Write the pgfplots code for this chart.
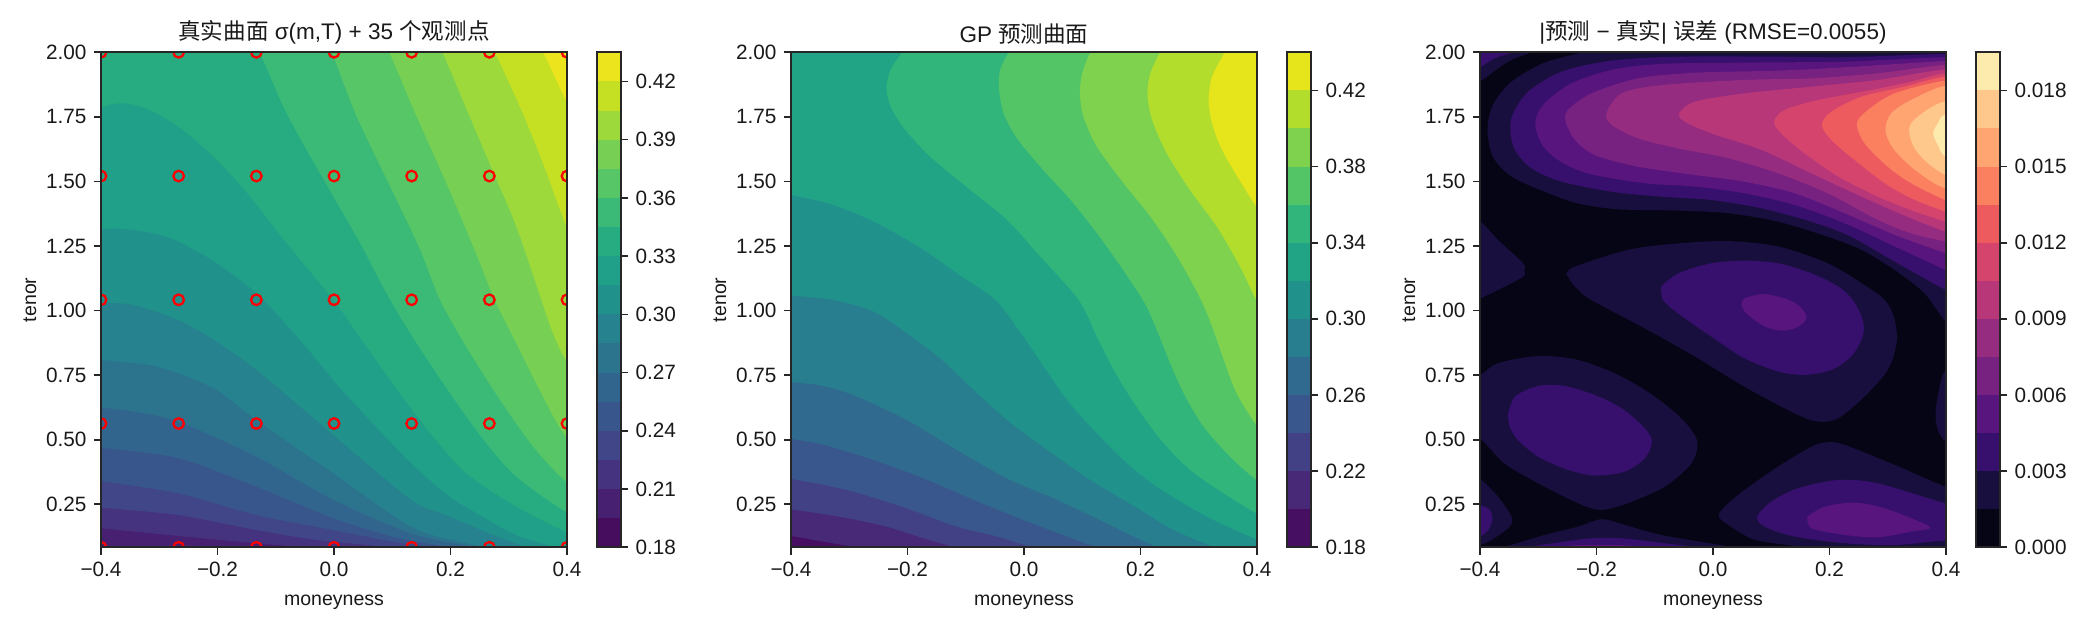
\documentclass[border=0pt]{standalone}
\usepackage{pgfplots}
\pgfplotsset{compat=1.18}
\usepackage{fontspec}
\setmainfont{Liberation Sans}
\newfontfamily\cjk{Noto Sans CJK SC}
% viridis, 17 layers
\definecolor{a0}{HTML}{460C5E}\definecolor{a1}{HTML}{482071}\definecolor{a2}{HTML}{46337F}
\definecolor{a3}{HTML}{404688}\definecolor{a4}{HTML}{39568C}\definecolor{a5}{HTML}{32658D}
\definecolor{a6}{HTML}{2C748E}\definecolor{a7}{HTML}{26828E}\definecolor{a8}{HTML}{21918C}
\definecolor{a9}{HTML}{20A088}\definecolor{a10}{HTML}{27AC81}\definecolor{a11}{HTML}{3ABA76}
\definecolor{a12}{HTML}{56C666}\definecolor{a13}{HTML}{77D053}\definecolor{a14}{HTML}{9DD93B}
\definecolor{a15}{HTML}{C5E023}\definecolor{a16}{HTML}{ECE51D}
% viridis, 13 layers
\definecolor{b0}{HTML}{460F61}\definecolor{b1}{HTML}{472978}\definecolor{b2}{HTML}{424186}
\definecolor{b3}{HTML}{39578C}\definecolor{b4}{HTML}{306A8E}\definecolor{b5}{HTML}{287E8E}
\definecolor{b6}{HTML}{21918C}\definecolor{b7}{HTML}{21A386}\definecolor{b8}{HTML}{31B57B}
\definecolor{b9}{HTML}{54C567}\definecolor{b10}{HTML}{7FD24E}\definecolor{b11}{HTML}{B3DD2D}
\definecolor{b12}{HTML}{E6E41B}
% magma, 13 layers
\definecolor{c0}{HTML}{050516}\definecolor{c1}{HTML}{190F3F}\definecolor{c2}{HTML}{370F6C}
\definecolor{c3}{HTML}{58157E}\definecolor{c4}{HTML}{772181}\definecolor{c5}{HTML}{962C80}
\definecolor{c6}{HTML}{B73779}\definecolor{c7}{HTML}{D5446D}\definecolor{c8}{HTML}{ED5B5F}
\definecolor{c9}{HTML}{FA805F}\definecolor{c10}{HTML}{FEA571}\definecolor{c11}{HTML}{FEC88C}
\definecolor{c12}{HTML}{FDEBAE}
\newcommand\cf[2]{\addplot[fill=#1,draw=none,smooth] coordinates {#2};}
\newcommand\cb[2]{\addplot[fill=#1,draw=none] coordinates {(0,#2)(1,#2)(1,1)(0,1)};}
\pgfplotsset{
  common/.style={scale only axis,axis on top,axis line style={line width=.8pt,black!85},
    tick style={line width=.8pt,black!85},major tick length=3.5pt,tick align=outside,
    scaled y ticks=false,scaled x ticks=false,
    tick label style={font=\fontsize{10}{12}\selectfont,text=black!90}},
  mainax/.style={common,width=223.68bp,height=237.6bp,anchor=south west,
    xmin=-0.4,xmax=0.4,ymin=0.0833,ymax=2,clip marker paths=true,
    xtick={-0.4,-0.2,0,0.2,0.4},xticklabels={−0.4,−0.2,0.0,0.2,0.4},
    ytick={0.25,0.5,0.75,1,1.25,1.5,1.75,2},yticklabels={0.25,0.50,0.75,1.00,1.25,1.50,1.75,2.00},
    xtick pos=bottom,ytick pos=left,
    xlabel={moneyness},ylabel={tenor},
    label style={font=\fontsize{9.4}{11}\selectfont,text=black!90},
    xlabel style={yshift=-1.9pt},ylabel style={yshift=-2.2pt},
    title style={font=\fontsize{10.85}{13}\selectfont,text=black!90,yshift=-5.8pt}},
  cbax/.style={common,width=11.52bp,height=237.6bp,anchor=south west,
    xmin=0,xmax=1,xtick=\empty,ytick pos=right,yticklabel pos=right}
}
\begin{document}
\begin{tikzpicture}
\path[use as bounding box] (0,0) rectangle (1008bp,302.4bp);
% ---------- panel 1 ----------
\begin{axis}[mainax,at={(48.48bp,39.7bp)},title={{\cjk 真实曲面} σ(m,T) + 35 {\cjk 个观测点}}]
\addplot[fill=a0,draw=none] coordinates {(-.6,0)(.6,0)(.6,2.2)(-.6,2.2)};
\cf{a1}{(-.45,.092)(-.4,.088)(-.31,.0825)(-.25,.07)(.7,-.1)(.8,2.4)(-.7,2.4)}
\cf{a2}{(-.45,.165)(-.4,.157)(-.267,.127)(-.133,.099)(-.053,.083)(0,.06)(.7,-.1)(.8,2.4)(-.7,2.4)}
\cf{a3}{(-.45,.247)(-.4,.237)(-.267,.208)(-.133,.150)(-.030,.112)(.096,.083)(.15,.06)(.7,-.1)(.8,2.4)(-.7,2.4)}
\cf{a4}{(-.45,.355)(-.4,.340)(-.267,.292)(-.133,.208)(-.001,.150)(.085,.112)(.165,.083)(.22,.06)(.7,-.1)(.8,2.4)(-.7,2.4)}
\cf{a5}{(-.45,.482)(-.4,.469)(-.267,.428)(-.133,.318)(-.001,.196)(.113,.118)(.205,.083)(.26,.06)(.7,-.1)(.8,2.4)(-.7,2.4)}
\cf{a6}{(-.45,.632)(-.4,.624)(-.345,.609)(-.267,.570)(-.133,.434)(-.001,.267)(.133,.137)(.245,.083)(.3,.06)(.7,-.1)(.8,2.4)(-.7,2.4)}
\cf{a7}{(-.45,.815)(-.4,.809)(-.316,.789)(-.267,.757)(-.201,.692)(-.133,.576)(-.001,.370)(.133,.163)(.228,.099)(.279,.083)(.33,.07)(.7,-.1)(.8,2.4)(-.7,2.4)}
\cf{a8}{(-.45,1.035)(-.4,1.031)(-.345,1.022)(-.267,.963)(-.201,.880)(-.133,.770)(-.058,.628)(-.001,.518)(.133,.267)(.193,.208)(.267,.137)(.331,.083)(.38,.05)(.7,-.1)(.8,2.4)(-.7,2.4)}
\cf{a9}{(-.45,1.312)(-.4,1.316)(-.356,1.315)(-.287,1.286)(-.219,1.209)(-.161,1.118)(-.121,1.041)(-.058,.886)(-.001,.731)(.056,.589)(.133,.409)(.199,.279)(.251,.208)(.313,.131)(.382,.083)(.43,.05)(.7,-.1)(.8,2.4)(-.7,2.4)}
\cf{a10}{(-.45,1.74)(-.4,1.787)(-.362,1.803)(-.316,1.777)(-.259,1.699)(-.201,1.583)(-.144,1.441)(-.081,1.260)(-.001,1.041)(.056,.860)(.113,.680)(.170,.512)(.227,.370)(.313,.241)(.398,.144)(.45,.10)(.7,.1)(.7,2.4)(-.7,2.4)}
\cf{a11}{(-.15,2.05)(-.128,2.0)(-.087,1.790)(-.047,1.622)(-.001,1.441)(.045,1.260)(.095,1.047)(.142,.873)(.199,.680)(.257,.499)(.313,.357)(.398,.221)(.45,.18)(.7,.18)(.7,2.4)(-.15,2.4)}
\cf{a12}{(-.02,2.05)(-.004,2.0)(.039,1.751)(.102,1.454)(.148,1.235)(.182,1.041)(.227,.860)(.285,.654)(.342,.473)(.398,.338)(.45,.27)(.7,.27)(.7,2.4)(-.02,2.4)}
\cf{a13}{(.08,2.05)(.095,2.0)(.142,1.751)(.193,1.493)(.239,1.248)(.276,1.041)(.313,.873)(.353,.692)(.398,.512)(.45,.42)(.7,.42)(.7,2.4)(.08,2.4)}
\cf{a14}{(.17,2.05)(.186,2.0)(.227,1.783)(.267,1.570)(.313,1.325)(.356,1.041)(.376,.912)(.398,.809)(.45,.65)(.7,.65)(.7,2.4)(.17,2.4)}
\cf{a15}{(.26,2.05)(.276,2.0)(.319,1.790)(.359,1.570)(.398,1.331)(.45,1.05)(.7,1.05)(.7,2.4)(.26,2.4)}
\cf{a16}{(.34,2.05)(.359,2.0)(.398,1.815)(.45,1.6)(.7,1.6)(.7,2.4)(.34,2.4)}
\addplot[only marks,mark=o,mark size=2.55pt,red,mark options={line width=1.1pt}] coordinates {
(-.4,.0833)(-.2667,.0833)(-.1333,.0833)(0,.0833)(.1333,.0833)(.2667,.0833)(.4,.0833)
(-.4,.5625)(-.2667,.5625)(-.1333,.5625)(0,.5625)(.1333,.5625)(.2667,.5625)(.4,.5625)
(-.4,1.0417)(-.2667,1.0417)(-.1333,1.0417)(0,1.0417)(.1333,1.0417)(.2667,1.0417)(.4,1.0417)
(-.4,1.5208)(-.2667,1.5208)(-.1333,1.5208)(0,1.5208)(.1333,1.5208)(.2667,1.5208)(.4,1.5208)
(-.4,2)(-.2667,2)(-.1333,2)(0,2)(.1333,2)(.2667,2)(.4,2)};
\end{axis}
\begin{axis}[cbax,at={(286.56bp,39.7bp)},ymin=0.18,ymax=0.435,
  ytick={0.18,0.21,0.24,0.27,0.30,0.33,0.36,0.39,0.42},yticklabels={0.18,0.21,0.24,0.27,0.30,0.33,0.36,0.39,0.42}]
\cb{a0}{0.18}\cb{a1}{0.195}\cb{a2}{0.21}\cb{a3}{0.225}\cb{a4}{0.24}\cb{a5}{0.255}\cb{a6}{0.27}\cb{a7}{0.285}\cb{a8}{0.30}
\cb{a9}{0.315}\cb{a10}{0.33}\cb{a11}{0.345}\cb{a12}{0.36}\cb{a13}{0.375}\cb{a14}{0.39}\cb{a15}{0.405}\cb{a16}{0.42}
\end{axis}
% ---------- panel 2 ----------
\begin{axis}[mainax,at={(379.68bp,39.7bp)},title={GP {\cjk 预测曲面}}]
\addplot[fill=b0,draw=none] coordinates {(-.6,0)(.6,0)(.6,2.2)(-.6,2.2)};
\cf{b1}{(-.45,.14)(-.4,.127)(-.344,.105)(-.289,.083)(-.24,.06)(.7,-.1)(.8,2.4)(-.7,2.4)}
\cf{b2}{(-.45,.245)(-.4,.230)(-.344,.212)(-.287,.189)(-.229,.159)(-.172,.118)(-.118,.083)(-.07,.05)(.7,-.1)(.8,2.4)(-.7,2.4)}
\cf{b3}{(-.45,.365)(-.4,.348)(-.344,.325)(-.287,.295)(-.201,.234)(-.115,.163)(-.046,.125)(.014,.083)(.07,.05)(.7,-.1)(.8,2.4)(-.7,2.4)}
\cf{b4}{(-.45,.52)(-.4,.503)(-.344,.480)(-.258,.421)(-.172,.350)(-.086,.267)(-.001,.189)(.125,.083)(.18,.05)(.7,-.1)(.8,2.4)(-.7,2.4)}
\cf{b5}{(-.45,.733)(-.4,.723)(-.344,.708)(-.287,.667)(-.201,.576)(-.115,.460)(-.029,.350)(.057,.267)(.142,.176)(.228,.083)(.28,.04)(.7,-.1)(.8,2.4)(-.7,2.4)}
\cf{b6}{(-.45,1.064)(-.4,1.058)(-.327,1.041)(-.258,.996)(-.201,.912)(-.144,.815)(-.086,.692)(-.029,.576)(.028,.480)(.114,.344)(.200,.228)(.257,.150)(.328,.083)(.38,.04)(.7,-.1)(.8,2.4)(-.7,2.4)}
\cf{b7}{(-.45,1.47)(-.4,1.448)(-.327,1.409)(-.252,1.338)(-.172,1.235)(-.115,1.144)(-.049,1.041)(-.001,.899)(.034,.783)(.074,.654)(.114,.551)(.171,.421)(.228,.318)(.314,.202)(.399,.114)(.45,.07)(.7,.07)(.7,2.4)(-.7,2.4)}
\cf{b8}{(-.19,2.05)(-.209,2.0)(-.229,1.932)(-.236,1.861)(-.229,1.790)(-.206,1.706)(-.161,1.596)(-.092,1.467)(-.029,1.351)(.028,1.209)(.094,1.041)(.125,.899)(.148,.796)(.171,.705)(.205,.589)(.240,.486)(.285,.383)(.343,.292)(.399,.215)(.45,.17)(.7,.17)(.7,2.4)(-.19,2.4)}
\cf{b9}{(-.01,2.05)(-.026,2.0)(-.041,1.932)(-.043,1.861)(-.035,1.764)(-.012,1.667)(.028,1.557)(.085,1.415)(.142,1.248)(.204,1.041)(.228,.925)(.251,.796)(.274,.680)(.308,.551)(.354,.434)(.399,.344)(.45,.27)(.7,.27)(.7,2.4)(-.01,2.4)}
\cf{b10}{(.13,2.05)(.114,2.0)(.100,1.919)(.096,1.841)(.102,1.751)(.125,1.635)(.171,1.493)(.217,1.364)(.263,1.209)(.304,1.041)(.325,.925)(.343,.809)(.365,.680)(.399,.557)(.45,.42)(.7,.42)(.7,2.4)(.13,2.4)}
\cf{b11}{(.25,2.05)(.234,2.0)(.217,1.919)(.212,1.835)(.220,1.738)(.245,1.609)(.285,1.467)(.331,1.325)(.371,1.170)(.399,1.041)(.45,.85)(.7,.85)(.7,2.4)(.25,2.4)}
\cf{b12}{(.36,2.05)(.345,2.0)(.323,1.906)(.317,1.815)(.323,1.725)(.343,1.609)(.399,1.402)(.45,1.25)(.7,1.25)(.7,2.4)(.36,2.4)}
\end{axis}
\begin{axis}[cbax,at={(617.76bp,39.7bp)},ymin=0.18,ymax=0.44,
  ytick={0.18,0.22,0.26,0.30,0.34,0.38,0.42},yticklabels={0.18,0.22,0.26,0.30,0.34,0.38,0.42}]
\cb{b0}{0.18}\cb{b1}{0.20}\cb{b2}{0.22}\cb{b3}{0.24}\cb{b4}{0.26}\cb{b5}{0.28}\cb{b6}{0.30}
\cb{b7}{0.32}\cb{b8}{0.34}\cb{b9}{0.36}\cb{b10}{0.38}\cb{b11}{0.40}\cb{b12}{0.42}
\end{axis}
% ---------- panel 3 ----------
\begin{axis}[mainax,at={(710.4bp,39.7bp)},title={|{\cjk 预测} − {\cjk 真实}| {\cjk 误差} (RMSE=0.0055)}]
\addplot[fill=c0,draw=none] coordinates {(-.6,0)(.6,0)(.6,2.2)(-.6,2.2)};
% level 1
\cf{c1}{(-.205,2.03)(-.220,2.003)(-.289,1.960)(-.346,1.886)(-.378,1.796)(-.387,1.699)(-.378,1.596)(-.346,1.519)(-.289,1.460)(-.232,1.415)(-.163,1.392)(-.060,1.387)(.026,1.377)(.112,1.344)(.197,1.286)(.255,1.235)(.312,1.157)(.363,1.067)(.399,.957)(.43,.90)(.7,.9)(.7,2.4)(-.205,2.4)}
\cf{c1}{(-.29,2.03)(-.312,2.0)(-.352,1.964)(-.398,1.890)(-.43,1.85)(-.6,1.85)(-.6,2.3)(-.29,2.3)}
\cf{c1}{(-.43,1.38)(-.399,1.344)(-.369,1.273)(-.326,1.183)(-.324,1.157)(-.326,1.131)(-.369,1.080)(-.399,1.047)(-.43,1.01)(-.6,1.01)(-.6,1.38)}
\cf{c1}{(-.252,1.142)(-.237,1.170)(-.146,1.235)(-.060,1.260)(.026,1.269)(.112,1.248)(.197,1.183)(.255,1.106)(.295,1.041)(.312,.964)(.315,.873)(.300,.770)(.260,.667)(.215,.583)(.180,.570)(.140,.602)(.054,.705)(-.031,.822)(-.117,.931)(-.209,1.041)(-.237,1.093)(-.252,1.142)}
\cf{c1}{(-.45,.71)(-.400,.751)(-.369,.796)(-.300,.824)(-.232,.809)(-.163,.751)(-.100,.667)(-.049,.570)(-.027,.492)(-.037,.408)(-.083,.318)(-.146,.254)(-.192,.228)(-.232,.254)(-.300,.331)(-.358,.408)(-.400,.505)(-.44,.55)(-.6,.55)(-.6,.71)}
\cf{c1}{(.169,.07)(.140,.088)(.072,.112)(.031,.163)(.010,.202)(.020,.241)(.054,.305)(.112,.396)(.169,.473)(.197,.490)(.226,.480)(.312,.402)(.399,.318)(.45,.29)(.7,.29)(.7,.07)}
\cf{c1}{(-.42,.07)(-.363,.083)(-.289,.131)(-.232,.163)(-.192,.192)(-.157,.174)(-.089,.131)(.037,.083)(.06,.07)(.06,0)(-.42,0)}
\cf{c1}{(-.43,.38)(-.400,.348)(-.369,.279)(-.346,.202)(-.349,.163)(-.380,.112)(-.400,.092)(-.43,.08)(-.6,.08)(-.6,.38)}
\cf{c1}{(.43,.83)(.399,.770)(.389,.705)(.382,.602)(.386,.538)(.399,.492)(.43,.44)(.6,.44)(.6,.83)}
% level 2
\cf{c2}{(.45,1.99)(.399,1.994)(.226,1.981)(.112,1.983)(-.060,1.983)(-.174,1.968)(-.260,1.925)(-.317,1.848)(-.343,1.764)(-.348,1.699)(-.340,1.622)(-.312,1.551)(-.260,1.499)(-.174,1.460)(-.089,1.441)(-.003,1.428)(.083,1.396)(.169,1.344)(.237,1.286)(.312,1.189)(.399,1.080)(.45,1.02)(.7,1.02)(.7,1.99)}
\cf{c2}{(-.33,2.02)(-.349,1.996)(-.375,1.977)(-.398,1.945)(-.43,1.91)(-.6,1.91)(-.6,2.3)(-.33,2.3)}
\cf{c2}{(-.089,1.093)(-.060,1.144)(-.003,1.183)(.054,1.193)(.112,1.183)(.169,1.144)(.215,1.093)(.240,1.041)(.257,.964)(.257,.899)(.237,.822)(.203,.770)(.157,.751)(.112,.764)(.054,.815)(-.003,.899)(-.060,.989)(-.086,1.041)(-.089,1.093)}
\cf{c2}{(-.352,.596)(-.340,.667)(-.300,.708)(-.255,.708)(-.203,.673)(-.157,.622)(-.117,.544)(-.105,.492)(-.117,.428)(-.152,.376)(-.203,.361)(-.249,.383)(-.300,.434)(-.335,.499)(-.349,.550)(-.352,.596)}
\cf{c2}{(.45,.1)(.399,.109)(.312,.092)(.226,.099)(.140,.125)(.089,.163)(.076,.202)(.100,.260)(.146,.312)(.215,.344)(.283,.331)(.399,.254)(.45,.24)(.6,.24)(.6,.1)}
\cf{c2}{(-.35,.07)(-.323,.083)(-.255,.105)(-.209,.118)(-.157,.118)(-.106,.105)(-.026,.083)(0,.07)(0,0)(-.35,0)}
\cf{c2}{(-.43,.27)(-.400,.247)(-.383,.228)(-.379,.189)(-.386,.150)(-.400,.125)(-.43,.10)(-.6,.10)(-.6,.27)}
% level 3
\cf{c3}{(.45,1.975)(.399,1.981)(.226,1.964)(.054,1.960)(-.089,1.955)(-.174,1.932)(-.243,1.880)(-.289,1.803)(-.305,1.732)(-.295,1.648)(-.266,1.583)(-.215,1.531)(-.117,1.493)(-.031,1.480)(.054,1.454)(.140,1.409)(.226,1.338)(.312,1.248)(.399,1.157)(.45,1.1)(.7,1.1)(.7,1.975)}
\cf{c3}{(.049,1.022)(.054,1.047)(.086,1.064)(.123,1.047)(.146,1.022)(.160,.983)(.157,.957)(.140,.931)(.117,.922)(.089,.938)(.057,.989)(.049,1.022)}
\cf{c3}{(.162,.202)(.192,.241)(.243,.256)(.295,.234)(.372,.163)(.340,.144)(.283,.122)(.226,.131)(.169,.157)(.162,.202)}
\cf{c3}{(-.29,.07)(-.266,.083)(-.232,.092)(-.163,.092)(-.106,.083)(-.09,.07)(-.09,0)(-.29,0)}
% level 4 and up
\cf{c4}{(.45,1.96)(.399,1.966)(.226,1.942)(.112,1.929)(-.031,1.921)(-.129,1.899)(-.209,1.841)(-.249,1.777)(-.253,1.732)(-.237,1.661)(-.203,1.602)(-.129,1.557)(-.031,1.525)(.054,1.499)(.140,1.454)(.226,1.377)(.312,1.293)(.399,1.222)(.45,1.18)(.7,1.18)(.7,1.96)}
\cf{c5}{(.45,1.94)(.399,1.951)(.283,1.919)(.169,1.899)(.054,1.893)(-.089,1.873)(-.157,1.841)(-.183,1.764)(-.174,1.719)(-.129,1.667)(-.060,1.628)(.026,1.590)(.112,1.531)(.197,1.454)(.283,1.351)(.340,1.299)(.399,1.267)(.45,1.24)(.7,1.24)(.7,1.94)}
\cf{c6}{(.45,1.92)(.399,1.934)(.283,1.893)(.169,1.867)(.054,1.841)(-.031,1.809)(-.058,1.764)(-.049,1.732)(-.003,1.686)(.083,1.622)(.169,1.531)(.255,1.441)(.340,1.357)(.399,1.306)(.45,1.27)(.7,1.27)(.7,1.92)}
\cf{c7}{(.45,1.9)(.399,1.919)(.340,1.886)(.272,1.854)(.180,1.815)(.123,1.777)(.105,1.732)(.117,1.686)(.157,1.609)(.215,1.519)(.283,1.441)(.340,1.389)(.399,1.344)(.45,1.31)(.7,1.31)(.7,1.9)}
\cf{c8}{(.45,1.89)(.399,1.906)(.329,1.867)(.255,1.828)(.203,1.770)(.187,1.719)(.203,1.661)(.243,1.583)(.295,1.493)(.340,1.435)(.399,1.383)(.45,1.35)(.7,1.35)(.7,1.89)}
\cf{c9}{(.45,1.87)(.399,1.890)(.312,1.841)(.266,1.777)(.247,1.725)(.260,1.648)(.300,1.557)(.340,1.493)(.399,1.428)(.45,1.39)(.7,1.39)(.7,1.87)}
\cf{c10}{(.45,1.84)(.399,1.870)(.340,1.815)(.306,1.764)(.296,1.699)(.309,1.628)(.340,1.557)(.375,1.499)(.399,1.473)(.45,1.44)(.7,1.44)(.7,1.84)}
\cf{c11}{(.45,1.78)(.399,1.809)(.363,1.770)(.340,1.725)(.337,1.686)(.346,1.628)(.369,1.570)(.399,1.525)(.45,1.48)(.7,1.48)(.7,1.78)}
\cf{c12}{(.45,1.72)(.399,1.757)(.386,1.725)(.378,1.686)(.386,1.641)(.399,1.596)(.45,1.55)(.7,1.55)(.7,1.72)}
\end{axis}
\begin{axis}[cbax,at={(948.48bp,39.7bp)},ymin=0,ymax=0.0195,
  ytick={0,0.003,0.006,0.009,0.012,0.015,0.018},yticklabels={0.000,0.003,0.006,0.009,0.012,0.015,0.018}]
\cb{c0}{0}\cb{c1}{0.0015}\cb{c2}{0.003}\cb{c3}{0.0045}\cb{c4}{0.006}\cb{c5}{0.0075}\cb{c6}{0.009}
\cb{c7}{0.0105}\cb{c8}{0.012}\cb{c9}{0.0135}\cb{c10}{0.015}\cb{c11}{0.0165}\cb{c12}{0.018}
\end{axis}
\end{tikzpicture}
\end{document}
